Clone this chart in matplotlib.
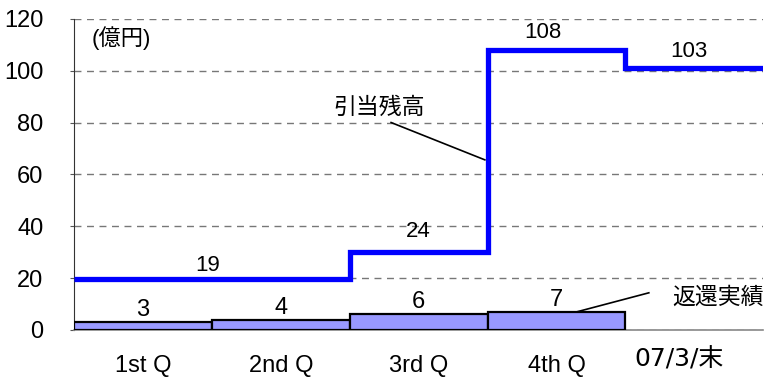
import matplotlib
matplotlib.use("Agg")
import matplotlib.pyplot as plt
import numpy as np

plt.rcParams['font.family'] = ['Liberation Sans', 'Noto Sans CJK JP', 'DejaVu Sans']

categories = ["1st Q", "2nd Q", "3rd Q", "4th Q", "07/3/末"]
returns = [3, 4, 6, 7]                 # 返還実績 (bars)
return_labels = ["3", "4", "6", "7"]
reserve = [19.5, 19.5, 30, 108, 101]   # 引当残高 (step line, as drawn)
reserve_labels = ["19", "24", "108", "103"]
yticks = [0, 20, 40, 60, 80, 100, 120]

fig = plt.figure(figsize=(7.64, 3.77), dpi=100)
ax = fig.add_axes([0.097, 0.125, 0.902, 0.825])

x = np.arange(len(categories))
ax.bar(x[:len(returns)], returns, width=1.0, color='#9999FF', edgecolor='black', linewidth=1.6, zorder=3)

edges = np.arange(len(reserve) + 1) - 0.5
ax.stairs(reserve, edges, color='#0000FF', linewidth=3.8, baseline=None, zorder=4)

ax.set_xlim(-0.5, 4.5)
ax.set_ylim(0, 120)
ax.set_yticks(yticks)
ax.set_yticklabels([str(v) for v in yticks], fontsize=17)
ax.set_xticks(x)
ax.set_xticklabels(categories[:4] + [""], fontsize=17)
ax.text(3.89, -11.6, categories[4], ha='center', va='center', fontsize=18,
        family=['DejaVu Sans', 'Noto Sans CJK JP'])
ax.tick_params(axis='x', length=0, pad=18)
ax.tick_params(axis='y', length=3, color='#555555', pad=19)

ax.grid(axis='y', linestyle=(0, (5, 4)), color='#777777', linewidth=1.0, zorder=0)
for s in ['top', 'right']:
    ax.spines[s].set_visible(False)
ax.spines['left'].set_color('#333333')
ax.spines['bottom'].set_color('#888888')
ax.spines['bottom'].set_linewidth(1.2)

# bar labels
for xi, v, lab in zip(x, returns, return_labels):
    ax.text(xi, v + 4.6, lab, ha='center', va='center', fontsize=17)

# step line labels
label_pos = [(0.47, 25.0), (2.0, 37.8), (2.9, 114.7), (3.96, 107.3)]
for (px, py), lab in zip(label_pos, reserve_labels):
    ax.text(px, py, lab, ha='center', va='center', fontsize=16)

ax.text(-0.37, 112.7, "(億円)", ha='left', va='center', fontsize=16)

# callouts
ax.text(1.71, 86, "引当残高", ha='center', va='center', fontsize=16.5)
ax.plot([1.80, 2.48], [80, 65.6], color='black', lw=1.2, zorder=5)
ax.text(3.84, 12.7, "返還実績", ha='left', va='center', fontsize=16.5)
ax.plot([3.67, 3.15], [14.3, 7.0], color='black', lw=1.2, zorder=5)

fig.savefig("out.png", dpi=100)
